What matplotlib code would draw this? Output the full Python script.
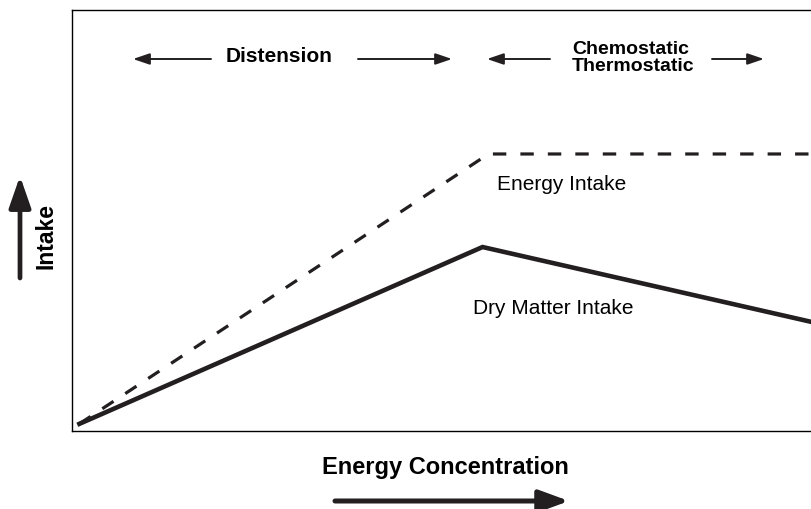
import matplotlib
matplotlib.use("Agg")
import matplotlib.pyplot as plt
from matplotlib.patches import FancyArrowPatch

plt.rcParams["font.family"] = ["Liberation Sans", "DejaVu Sans"]

# energy concentration (arbitrary units) and intake (arbitrary units)
energy_x = [0.1, 5.63, 10.0]
energy_intake = [0.17, 6.58, 6.58]
dm_x = [0.1, 5.55, 10.0]
dm_intake = [0.17, 4.37, 2.59]

W, H = 811, 510
ink = "#231f20"
fig = plt.figure(figsize=(W / 100, H / 100), dpi=100)
ax = fig.add_axes([72 / W, 1 - 432 / H, (W - 72) / W + 0.01, (432 - 11) / H])

ax.plot(energy_x, energy_intake, color=ink, lw=2.3, ls=(0, (4.2, 4.4)), solid_capstyle="butt")
ax.plot(dm_x, dm_intake, color=ink, lw=3.3, solid_joinstyle="miter")
ax.set_xlim(0, 10.1)
ax.set_ylim(0, 10)
ax.set_xticks([])
ax.set_yticks([])
for s in ax.spines.values():
    s.set_linewidth(1.0)
ax.spines["right"].set_visible(False)


def px(x, y):
    return (x / W, 1 - y / H)


def arr(x0, y0, x1, y1, lw, hl, hw):
    fig.add_artist(FancyArrowPatch(
        px(x0, y0), px(x1, y1), transform=fig.transFigure,
        arrowstyle=f"-|>,head_length={hl},head_width={hw}", mutation_scale=20,
        lw=lw, color=ink, shrinkA=0, shrinkB=0))


# top region labels
fig.text(*px(279, 56), "Distension", ha="center", va="center", fontsize=15, fontweight="bold")
arr(211, 60, 133, 60, 1.4, 0.5, 0.17)
arr(358, 60, 452, 60, 1.4, 0.5, 0.17)
fig.text(*px(572, 58), "Chemostatic\nThermostatic", ha="left", va="center", fontsize=14,
         fontweight="bold", linespacing=0.95)
arr(550, 60, 487, 60, 1.4, 0.5, 0.17)
arr(712, 60, 764, 60, 1.4, 0.5, 0.17)

# line labels
fig.text(*px(497, 185), "Energy Intake", ha="left", va="center", fontsize=15)
fig.text(*px(473, 309), "Dry Matter Intake", ha="left", va="center", fontsize=15)

# axis labels with arrows
fig.text(*px(46, 236), "Intake", ha="center", va="center", rotation=90, fontsize=16.5, fontweight="bold")
arr(20, 279, 20, 177, 3.4, 0.95, 0.33)
fig.text(*px(445, 468), "Energy Concentration", ha="center", va="center", fontsize=17, fontweight="bold")
arr(335, 502, 569, 502, 3.6, 0.9, 0.33)

fig.savefig("out.png", dpi=100)
